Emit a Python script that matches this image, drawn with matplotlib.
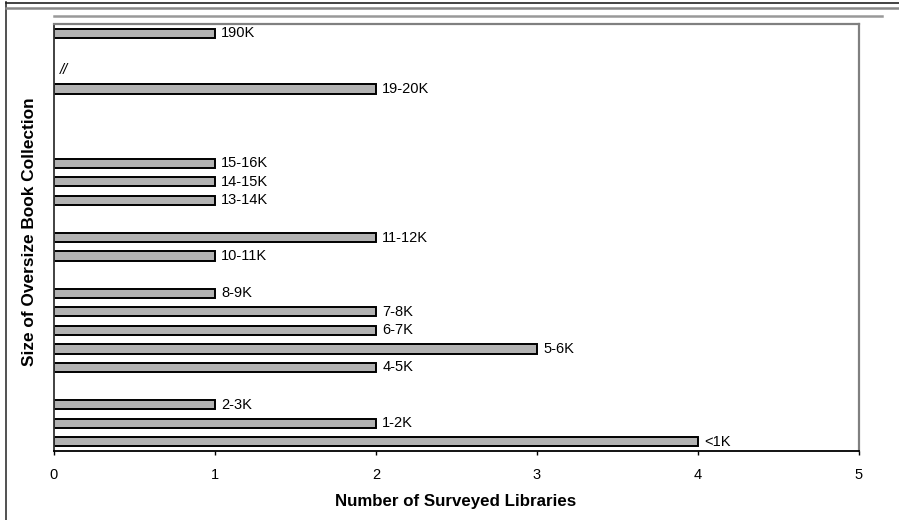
import matplotlib
matplotlib.use("Agg")
import matplotlib.pyplot as plt
from matplotlib.lines import Line2D

plt.rcParams["font.family"] = ["Liberation Sans", "DejaVu Sans"]

# collection size bins (bottom to top); blank slots are gaps in the axis
size_labels = ["<1K", "1-2K", "2-3K", "", "4-5K", "5-6K", "6-7K", "7-8K", "8-9K", "",
               "10-11K", "11-12K", "", "13-14K", "14-15K", "15-16K", "", "", "",
               "19-20K", "//", "", "190K"]
libraries = [4, 2, 1, 0, 2, 3, 2, 2, 1, 0,
             1, 2, 0, 1, 1, 1, 0, 0, 0,
             2, 0, 0, 1]
shown = [lab != "" and lab != "//" for lab in size_labels]

fig = plt.figure(figsize=(8.99, 5.20), dpi=100)
ax = fig.add_axes([54 / 899, 1 - 451 / 520, (859 - 54) / 899, (451 - 24) / 520])

pos = list(range(len(size_labels)))
bar_pos = [p for p, s in zip(pos, shown) if s]
bar_val = [v for v, s in zip(libraries, shown) if s]
ax.barh(bar_pos, bar_val, height=0.5, color="#b2b2b2", edgecolor="black", linewidth=1.4)

for p, v, lab in zip(pos, libraries, size_labels):
    if lab:
        ax.annotate(lab, (v, p), xytext=(4.5, 0), textcoords="offset points",
                    va="center", ha="left", fontsize=10.5,
                    fontstyle="italic" if lab == "//" else "normal")

ax.set_xlim(0, 5)
ax.set_ylim(-0.5, len(size_labels) - 0.5)
ax.set_xticks(range(6))
ax.set_yticks([])
ax.tick_params(axis="x", direction="out", length=3, width=1, labelsize=10.5, pad=9)

for side in ("top", "right"):
    ax.spines[side].set_color("#808080")
    ax.spines[side].set_linewidth(1.6)
ax.spines["bottom"].set_color("black")
ax.spines["left"].set_color("#333333")
ax.spines["bottom"].set_linewidth(1.3)
ax.spines["left"].set_linewidth(1.3)

ax.set_xlabel("Number of Surveyed Libraries", fontsize=12.2, fontweight="bold")
ax.set_ylabel("Size of Oversize Book Collection", fontsize=12.4, fontweight="bold")
ax.xaxis.set_label_coords(0.4994, -0.1007)
ax.yaxis.set_label_coords(-0.021, 0.513)

# outer frame lines of the page
W, H = 899, 520
def hline(y, x0, x1, color, lw):
    fig.add_artist(Line2D([x0 / W, x1 / W], [1 - y / H, 1 - y / H], color=color, lw=lw,
                          transform=fig.transFigure))

fig.add_artist(Line2D([6 / W, 6 / W], [0, 1 - 2 / H], color="#333333", lw=1.2,
                      transform=fig.transFigure))
hline(3, 6, W, "#222222", 1.2)
hline(8, 6, W, "#888888", 1.8)
hline(15.5, 54, 882, "#999999", 1.8)

fig.savefig("out.png", dpi=100)
